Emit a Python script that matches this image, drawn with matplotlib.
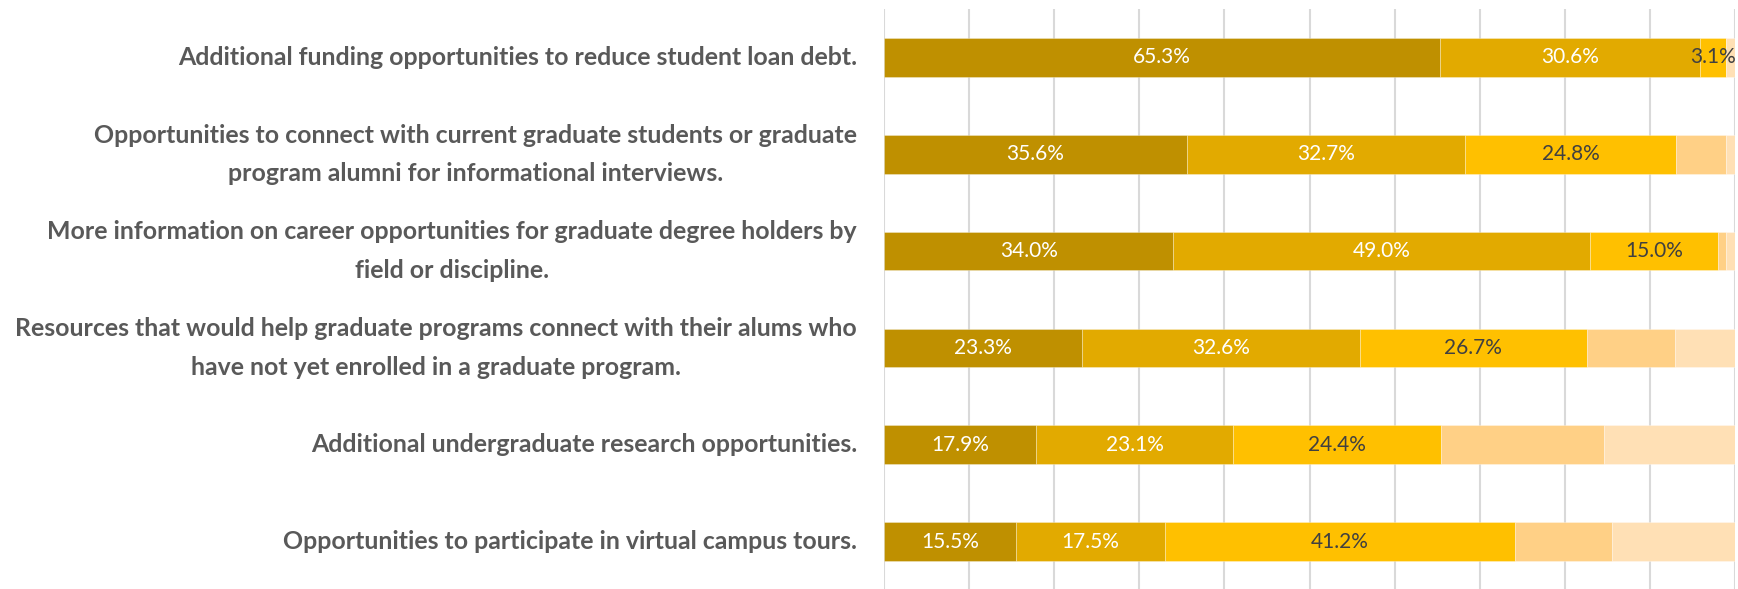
import matplotlib
matplotlib.use("Agg")
import matplotlib.pyplot as plt

family = ["Lato", "DejaVu Sans"]

categories = [
    "Additional funding opportunities to reduce student loan debt.",
    "Opportunities to connect with current graduate students or graduate\nprogram alumni for informational interviews.",
    "More information on career opportunities for graduate degree holders by\nfield or discipline.",
    "Resources that would help graduate programs connect with their alums who\nhave not yet enrolled in a graduate program.",
    "Additional undergraduate research opportunities.",
    "Opportunities to participate in virtual campus tours.",
]
seg1 = [65.3, 35.6, 34.0, 23.3, 17.9, 15.5]
seg2 = [30.6, 32.7, 49.0, 32.6, 23.1, 17.5]
seg3 = [3.1, 24.8, 15.0, 26.7, 24.4, 41.2]
seg4 = [0.0, 5.9, 1.0, 10.4, 19.2, 11.3]
seg5 = [1.0, 1.0, 1.0, 7.0, 15.4, 14.5]

series = [seg1, seg2, seg3, seg4, seg5]
colors = ["#BF9000", "#E2AA00", "#FFC000", "#FFD086", "#FFE0B5"]
label_colors = ["white", "white", "#404040", None, None]

fig = plt.figure(figsize=(17.38, 5.89), dpi=100)
ax = fig.add_axes([884 / 1738, -1 / 589, 851 / 1738, 581 / 589])

y = list(range(len(categories)))
left = [0.0] * len(categories)
for vals, col, lc in zip(series, colors, label_colors):
    ax.barh(y, vals, left=left, height=0.4, color=col, edgecolor=(1, 1, 1, 0.35),
            linewidth=0.6, zorder=3)
    if lc is not None:
        for yi, (l, v) in enumerate(zip(left, vals)):
            ax.text(l + v / 2, yi, f"{v:.1f}%", ha="center", va="center",
                    color=lc, fontsize=15, family=family, zorder=4, clip_on=False)
    left = [a + b for a, b in zip(left, vals)]

ax.set_xlim(0, 100)
ax.set_ylim(len(categories) - 0.5, -0.5)
ax.set_xticks(range(0, 101, 10))
ax.xaxis.grid(True, color="#D9D9D9", linewidth=1.5, zorder=0)
ax.tick_params(axis="x", length=0, labelbottom=False)
ax.set_yticks(y)
ax.set_yticklabels([])
ax.tick_params(axis="y", length=0)
for s in ax.spines.values():
    s.set_visible(False)

# fit category label size so the first label is about as wide as in the reference
probe = fig.text(0, 0, categories[0], fontsize=17, fontweight="bold", family=family)
fig.canvas.draw()
w = probe.get_window_extent().width
probe.remove()
cat_size = 17 * 682 / w

for yi, cat in enumerate(categories):
    ax.annotate(cat, xy=(0, yi), xycoords="data", xytext=(-19.5, 0),
                textcoords="offset points", ha="right", va="center",
                multialignment="center", fontsize=cat_size, fontweight="bold",
                color="#595959", family=family, linespacing=1.8)

fig.savefig("out.png", dpi=100)
